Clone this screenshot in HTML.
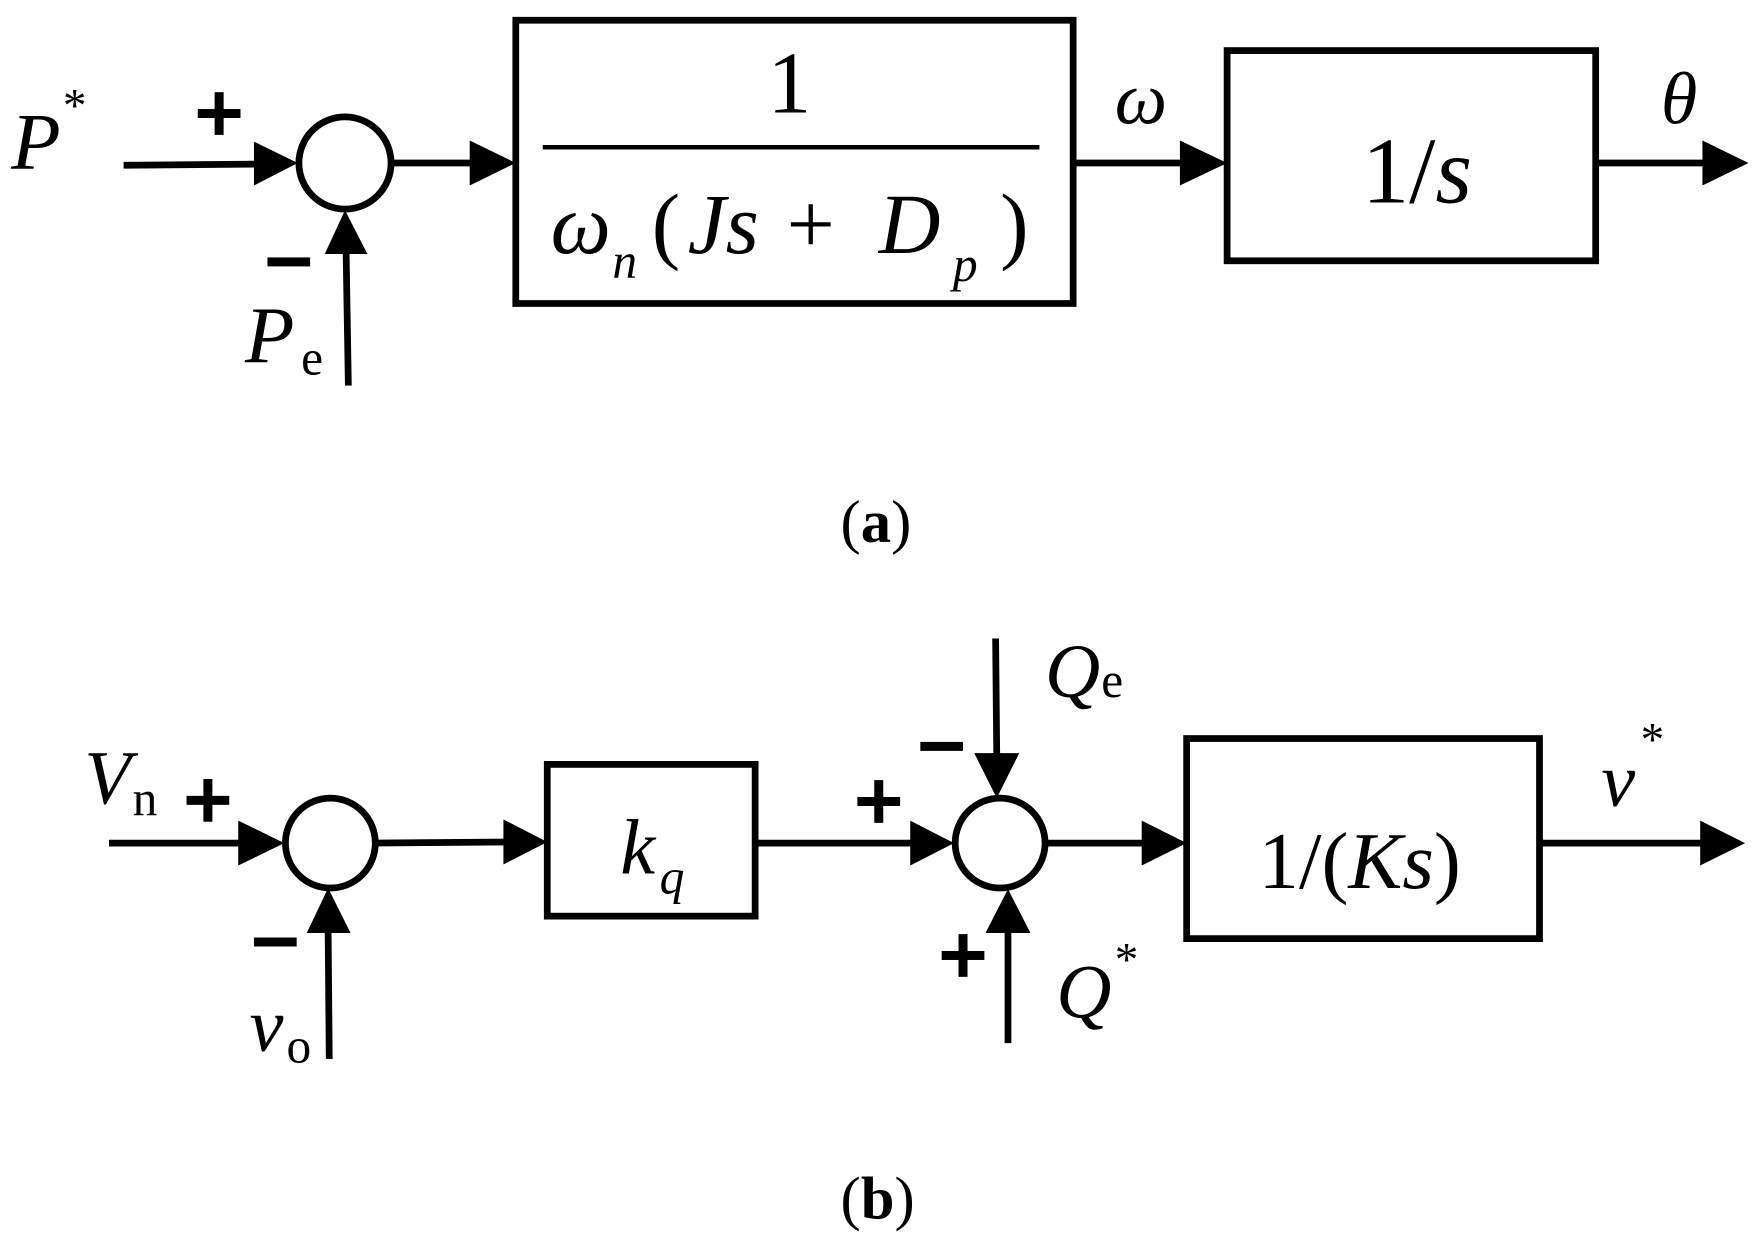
<!DOCTYPE html>
<html><head><style>html,body{margin:0;padding:0;background:#fff}svg{display:block}</style></head><body>
<svg width="1762" height="1241" viewBox="0 0 1568 1104" preserveAspectRatio="none" xmlns="http://www.w3.org/2000/svg" font-family="Liberation Serif, serif">
<g stroke="#000" stroke-width="6" fill="none">
<rect x="459" y="18" width="496" height="252"/>
<line x1="483" y1="131" x2="925" y2="131" stroke-width="4"/>
<rect x="1092" y="45" width="328" height="187"/>
<circle cx="307" cy="145" r="41"/>
<rect x="487" y="680" width="185" height="135"/>
<rect x="1056" y="657" width="314" height="178"/>
<circle cx="294" cy="750" r="40"/>
<circle cx="890" cy="750" r="40"/>
</g>
<g fill="#000">
<path d="M110 147 L228 146" stroke="#000" stroke-width="6"/><path d="M226 126 L265 145 L226 165z"/>
<path d="M349 145 L420 145" stroke="#000" stroke-width="6"/><path d="M418 125 L459 145 L418 165z"/>
<path d="M955 145 L1052 145" stroke="#000" stroke-width="6"/><path d="M1050 125 L1092 145 L1050 165z"/>
<path d="M1420 145 L1517 145" stroke="#000" stroke-width="6"/><path d="M1515 125 L1556 145 L1515 165z"/>
<path d="M310 343 L308 224" stroke="#000" stroke-width="6"/><path d="M289 226 L307 187 L327 226z"/>
<path d="M97 750 L214 750" stroke="#000" stroke-width="6"/><path d="M212 730 L253 750 L212 770z"/>
<path d="M335 750 L450 749" stroke="#000" stroke-width="6"/><path d="M448 729 L487 749 L448 769z"/>
<path d="M672 750 L812 750" stroke="#000" stroke-width="6"/><path d="M810 730 L849 750 L810 770z"/>
<path d="M931 750 L1018 750" stroke="#000" stroke-width="6"/><path d="M1016 730 L1056 750 L1016 770z"/>
<path d="M1370 750 L1515 750" stroke="#000" stroke-width="6"/><path d="M1513 730 L1553 750 L1513 770z"/>
<path d="M293 942 L292 828" stroke="#000" stroke-width="6"/><path d="M273 830 L292 790 L312 830z"/>
<path d="M886 568 L887 672" stroke="#000" stroke-width="6"/><path d="M867 670 L887 710 L907 670z"/>
<path d="M897 928 L897 828" stroke="#000" stroke-width="6"/><path d="M877 830 L897 791 L917 830z"/>
<rect x="176" y="97" width="38" height="8"/><rect x="191" y="82" width="8" height="38"/>
<rect x="238" y="229" width="38" height="8"/>
<rect x="166" y="708" width="38" height="8"/><rect x="181" y="693" width="8" height="38"/>
<rect x="226" y="834" width="38" height="8"/>
<rect x="763" y="709" width="38" height="8"/><rect x="778" y="694" width="8" height="38"/>
<rect x="819" y="660" width="38" height="8"/>
<rect x="838" y="846" width="38" height="8"/><rect x="853" y="831" width="8" height="38"/>
</g>
<g fill="#000">
<text x="10" y="150" font-size="72" font-style="italic">P</text><text x="56" y="108" font-size="42">*</text>
<text x="218" y="322" font-size="72" font-style="italic">P</text><text x="268" y="333" font-size="44">e</text>
<text x="683" y="100" font-size="78">1</text>
<text x="490" y="225" font-size="76" font-style="italic">ω</text><text x="545" y="247" font-size="44" font-style="italic">n</text>
<text x="580" y="225" font-size="76">(</text><text x="612" y="225" font-size="76" font-style="italic">Js</text>
<text x="700" y="225" font-size="76">+</text><text x="782" y="225" font-size="76" font-style="italic">D</text>
<text x="848" y="250" font-size="44" font-style="italic">p</text><text x="890" y="225" font-size="76">)</text>
<text x="992" y="110" font-size="66" font-style="italic">ω</text>
<text x="1478" y="110" font-size="66" font-style="italic">θ</text>
<text x="1212" y="180" font-size="84">1/<tspan font-style="italic">s</tspan></text>
<text x="748" y="482" font-size="54">(<tspan font-weight="bold">a</tspan>)</text>
<text x="75" y="715" font-size="68" font-style="italic">V</text><text x="118" y="725" font-size="44">n</text>
<text x="552" y="777" font-size="70" font-style="italic">k</text><text x="587" y="795" font-size="44" font-style="italic">q</text>
<text x="930" y="620" font-size="68" font-style="italic">Q</text><text x="980" y="620" font-size="44">e</text>
<text x="940" y="905" font-size="68" font-style="italic">Q</text><text x="992" y="868" font-size="42">*</text>
<text x="1120" y="790" font-size="72">1/(<tspan font-style="italic">Ks</tspan>)</text>
<text x="1425" y="717" font-size="68" font-style="italic">v</text><text x="1460" y="672" font-size="42">*</text>
<text x="222" y="935" font-size="68" font-style="italic">v</text><text x="255" y="945" font-size="44">o</text>
<text x="748" y="1084" font-size="54">(<tspan font-weight="bold">b</tspan>)</text>
</g>
</svg>
</body></html>
